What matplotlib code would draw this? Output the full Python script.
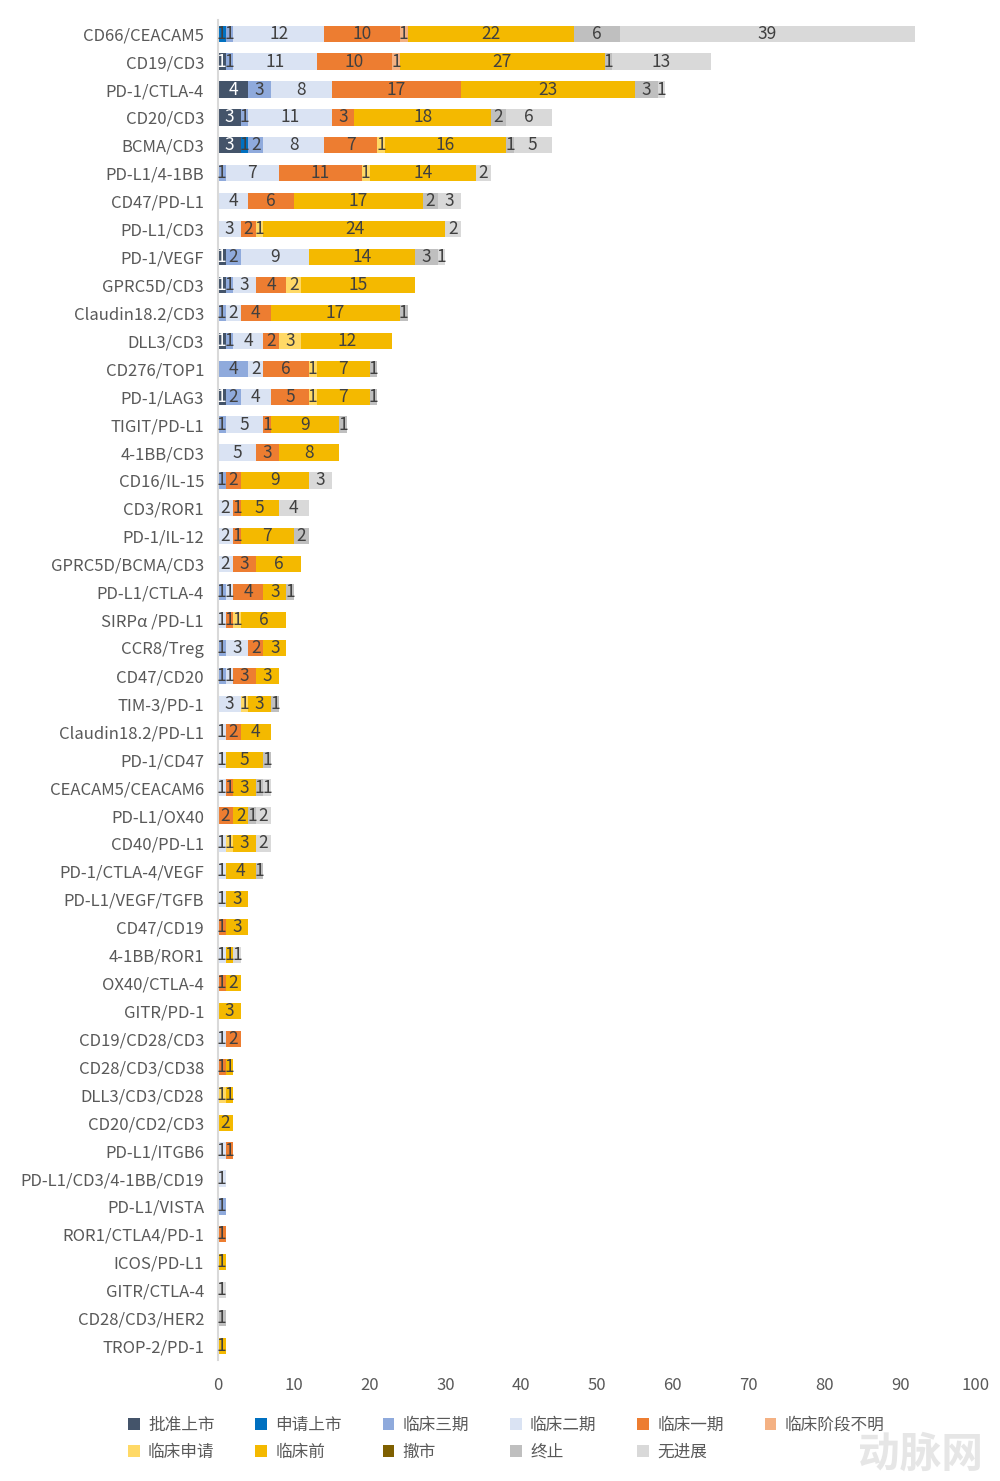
import numpy as np
import matplotlib
matplotlib.use('Agg')
import matplotlib.pyplot as plt
from matplotlib.patches import Patch

plt.rcParams['font.family'] = ['Noto Sans CJK SC', 'DejaVu Sans']

targets = ['CD66/CEACAM5', 'CD19/CD3', 'PD-1/CTLA-4', 'CD20/CD3', 'BCMA/CD3', 'PD-L1/4-1BB',
           'CD47/PD-L1', 'PD-L1/CD3', 'PD-1/VEGF', 'GPRC5D/CD3', 'Claudin18.2/CD3', 'DLL3/CD3',
           'CD276/TOP1', 'PD-1/LAG3', 'TIGIT/PD-L1', '4-1BB/CD3', 'CD16/IL-15', 'CD3/ROR1',
           'PD-1/IL-12', 'GPRC5D/BCMA/CD3', 'PD-L1/CTLA-4', 'SIRPα /PD-L1', 'CCR8/Treg', 'CD47/CD20',
           'TIM-3/PD-1', 'Claudin18.2/PD-L1', 'PD-1/CD47', 'CEACAM5/CEACAM6', 'PD-L1/OX40', 'CD40/PD-L1',
           'PD-1/CTLA-4/VEGF', 'PD-L1/VEGF/TGFB', 'CD47/CD19', '4-1BB/ROR1', 'OX40/CTLA-4', 'GITR/PD-1',
           'CD19/CD28/CD3', 'CD28/CD3/CD38', 'DLL3/CD3/CD28', 'CD20/CD2/CD3', 'PD-L1/ITGB6',
           'PD-L1/CD3/4-1BB/CD19', 'PD-L1/VISTA', 'ROR1/CTLA4/PD-1', 'ICOS/PD-L1', 'GITR/CTLA-4',
           'CD28/CD3/HER2', 'TROP-2/PD-1']

approved = [0, 1, 4, 3, 3, 0, 0, 0,  1, 1, 0, 1, 0, 1, 0, 0] + [0] * 32
filing = [1, 0, 0, 0, 1, 0, 0, 0] + [0] * 40
phase3 = [1, 1, 3, 1, 2, 1, 0, 0,  2, 1, 1, 1, 4, 2, 1, 0,  1, 0, 0, 0, 1, 0, 1, 1,
          0, 0, 0, 0, 0, 0, 0, 0,  0, 0, 0, 0, 0, 0, 0, 0,  0, 0, 1, 0, 0, 0, 0, 0]
phase2 = [12, 11, 8, 11, 8, 7, 4, 3,  9, 3, 2, 4, 2, 4, 5, 5,  0, 2, 2, 2, 1, 1, 3, 1,
          3, 1, 1, 1, 0, 1, 1, 1,  0, 1, 0, 0, 1, 0, 0, 0,  1, 1, 0, 0, 0, 0, 0, 0]
phase1 = [10, 10, 17, 3, 7, 11, 6, 2,  0, 4, 4, 2, 6, 5, 1, 3,  2, 1, 1, 3, 4, 1, 2, 3,
          0, 2, 0, 1, 2, 0, 0, 0,  1, 0, 1, 0, 2, 1, 0, 0,  1, 0, 0, 1, 0, 0, 0, 0]
unknown = [1, 1] + [0] * 46
ind = [0, 0, 0, 0, 1, 1, 0, 1,  0, 2, 0, 3, 1, 1, 0, 0,  0, 0, 0, 0, 0, 1, 0, 0,
       1, 0, 0, 0, 0, 1, 0, 0,  0, 0, 0, 0, 0, 0, 1, 0,  0, 0, 0, 0, 0, 0, 0, 0]
preclin = [22, 27, 23, 18, 16, 14, 17, 24,  14, 15, 17, 12, 7, 7, 9, 8,  9, 5, 7, 6, 3, 6, 3, 3,
           3, 4, 5, 3, 2, 3, 4, 3,  3, 1, 2, 3, 0, 1, 1, 2,  0, 0, 0, 0, 1, 0, 0, 1]
withdrawn = [0] * 48
terminated = [6, 1, 3, 2, 1, 0, 2, 0,  3, 0, 1, 0, 1, 1, 1, 0,  0, 0, 2, 0, 1, 0, 0, 0,
              1, 0, 1, 1, 1, 0, 1, 0,  0, 0, 0, 0, 0, 0, 0, 0,  0, 0, 0, 0, 0, 0, 1, 0]
noprog = [39, 13, 1, 6, 5, 2, 3, 2,  1, 0, 0, 0, 0, 0, 0, 0,  3, 4, 0, 0, 0, 0, 0, 0,
          0, 0, 0, 1, 2, 2, 0, 0,  0, 1, 0, 0, 0, 0, 0, 0,  0, 0, 0, 0, 0, 1, 0, 0]

stages = ['批准上市', '申请上市', '临床三期', '临床二期', '临床一期', '临床阶段不明',
          '临床申请', '临床前', '撤市', '终止', '无进展']
series = [approved, filing, phase3, phase2, phase1, unknown, ind, preclin, withdrawn, terminated, noprog]
colors = ['#44546A', '#0070C0', '#8FAADC', '#DAE3F3', '#ED7D31', '#F4B183',
          '#FFD966', '#F4B900', '#7F6000', '#BFBFBF', '#D9D9D9']

fig = plt.figure(figsize=(10, 14.81), dpi=100)
ax = fig.add_axes([0.218, 0.0817, 0.758, 0.905])

y = np.arange(len(targets))
left = np.zeros(len(targets))
for name, vals, c in zip(stages, series, colors):
    vals = np.array(vals, dtype=float)
    ax.barh(y, vals, left=left, height=0.58, color=c, label=name)
    txt_col = 'white' if name == '批准上市' else '#404040'
    for i, v in enumerate(vals):
        if v > 0:
            ax.text(left[i] + v / 2, y[i], '%d' % v, ha='center', va='center',
                    fontsize=12.5, color=txt_col, fontweight='light')
    left += vals

ax.set_xlim(0, 100)
ax.set_ylim(len(targets) - 0.5, -0.5)
ax.set_yticks(y)
ax.set_yticklabels(targets, fontsize=12, color='#595959')
ax.set_xticks(np.arange(0, 101, 10))
ax.tick_params(axis='x', labelsize=12, colors='#595959', length=0, pad=12)
ax.tick_params(axis='y', length=0, pad=10)
for s in ['top', 'right', 'bottom']:
    ax.spines[s].set_visible(False)
ax.spines['left'].set_color('#D9D9D9')
ax.spines['left'].set_linewidth(1.5)

# legend filled row by row
handles = [Patch(facecolor=c) for c in colors]
order = [0, 6, 1, 7, 2, 8, 3, 9, 4, 10, 5]
fig.legend([handles[i] for i in order], [stages[i] for i in order], ncol=6,
           loc='center left', bbox_to_anchor=(0.113, 0.0285), frameon=False,
           fontsize=12, handlelength=0.7, handleheight=0.7, handletextpad=0.5,
           columnspacing=2.45, labelspacing=0.6, labelcolor='#595959')

fig.text(0.92, 0.018, '动脉网', fontsize=30, color='#E6E6E6', ha='center', va='center',
         fontweight='bold', zorder=0)

fig.savefig('out.png', dpi=100)
